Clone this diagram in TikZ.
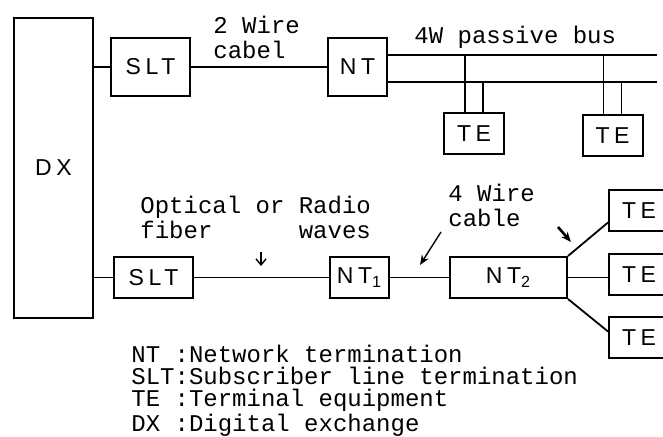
\documentclass[tikz,border=0pt]{standalone}
\usepackage{fontspec}
\newfontfamily\boxfont[LetterSpace=20]{Liberation Sans}
\newfontfamily\labelfont{Liberation Mono}
\usetikzlibrary{positioning,arrows.meta}

\begin{document}
\begin{tikzpicture}[
    x=0.5pt, y=-0.5pt,
    node distance = 10pt and 20pt,
    unit/.style   = {draw, line width=1pt, inner sep=0pt,
                     font=\boxfont\fontsize{11.5}{13}\selectfont},
    slt/.style    = {unit, minimum width=39.5pt},
    nt/.style     = {unit, minimum width=29.5pt},
    te/.style     = {unit, minimum width=30pt, minimum height=20.5pt},
    toprow/.style = {minimum height=29pt},
    botrow/.style = {minimum height=20.5pt},
    wire/.style   = {line width=0.9pt},
    txt/.style    = {font=\labelfont\fontsize{12}{12.5}\selectfont,
                     inner sep=0pt, align=left, anchor=north west},
    ptr/.style    = {-{Stealth[length=5pt,width=4pt]}, line width=0.7pt},
]
\useasboundingbox (0,0) rectangle (663,437);

% --- exchange ---
\node[unit, minimum width=39.5pt, minimum height=150pt] (dx) at (53.5,168) {DX\hspace{5pt}};

% --- upper line: 2 wire cable and passive bus ---
\node[slt, toprow] (slta) at (150.5,67) {SLT};
\node[nt, toprow, right=68pt of slta] (nta) {NT};
\coordinate (busa) at (657,55);
\coordinate (busb) at (657,82);
\node[te] (te1) at (474,133.5) {TE};
\node[te] (te2) at (612.5,135.5) {TE};

% --- lower line: optical fiber / radio and 4 wire cable ---
\node[slt, botrow] (sltb) at (153.5,277.5) {SLT};
\node[nt, botrow, right=67.5pt of sltb] (ntb) {NT\textsubscript{1}};
\node[unit, botrow, minimum width=58.5pt, right=29.5pt of ntb] (ntc) {NT\textsubscript{2}};
\node[te, right=20pt of ntc, yshift=1.5pt] (tec) {TE};
\node[te, above=10.5pt of tec] (tea) {TE};
\node[te, below=10pt of tec] (tee) {TE};

% --- wires ---
\draw[wire] (dx.east |- slta) -- (slta);
\draw[wire] (slta) -- (nta);
\draw[wire] (nta.east |- busa) -- (busa);
\draw[wire] (nta.east |- busb) -- (busb);
\foreach \t in {te1,te2} {
  \coordinate (\t a) at ([xshift=-4.5pt]\t.north);
  \coordinate (\t b) at ([xshift=4.5pt]\t.north);
  \draw[wire] (\t a) -- (\t a |- busa);
  \draw[wire] (\t b) -- (\t b |- busb);
}
\draw[wire] (dx.east |- sltb) -- (sltb);
\draw[wire] (sltb) -- (ntb);
\draw[wire] (ntb) -- (ntc);
\draw[wire] (ntc.north east) -- ([yshift=-6pt]tea.west);
\draw[wire] (ntc.east) -- (ntc.east -| tec.west);
\draw[wire] (ntc.south east) -- ([yshift=3pt]tee.west);

% --- line labels ---
\node[txt] (wire2) at (213,16) {2 Wire\\cabel};
\node[txt] (bus) at (414,26) {4W passive bus};
\node[txt] (medium) at (140,196) {Optical or Radio\\fiber\hspace{3.6em}waves};
\node[txt] (wire4) at (448,184) {4 Wire\\cable};

% --- pointers ---
\coordinate (fa) at (261,252);
\coordinate (fb) at (261,266);
\draw[-{Straight Barb[length=3pt,width=5pt]}, line width=0.7pt] (fa) -- (fb);
\coordinate (ca) at (441,232);
\coordinate (cb) at (420,265);
\draw[ptr] (ca) -- (cb);
\coordinate (sa) at (558,227);
\coordinate (sb) at (571,242);
\draw[ptr, line width=1.3pt] (sa) -- (sb);

% --- legend ---
\node[txt, font=\labelfont\fontsize{12}{11}\selectfont] (legend) at (131,345)
    {NT :Network termination\\SLT:Subscriber line termination\\TE :Terminal equipment\\DX :Digital exchange};

\end{tikzpicture}
\end{document}
